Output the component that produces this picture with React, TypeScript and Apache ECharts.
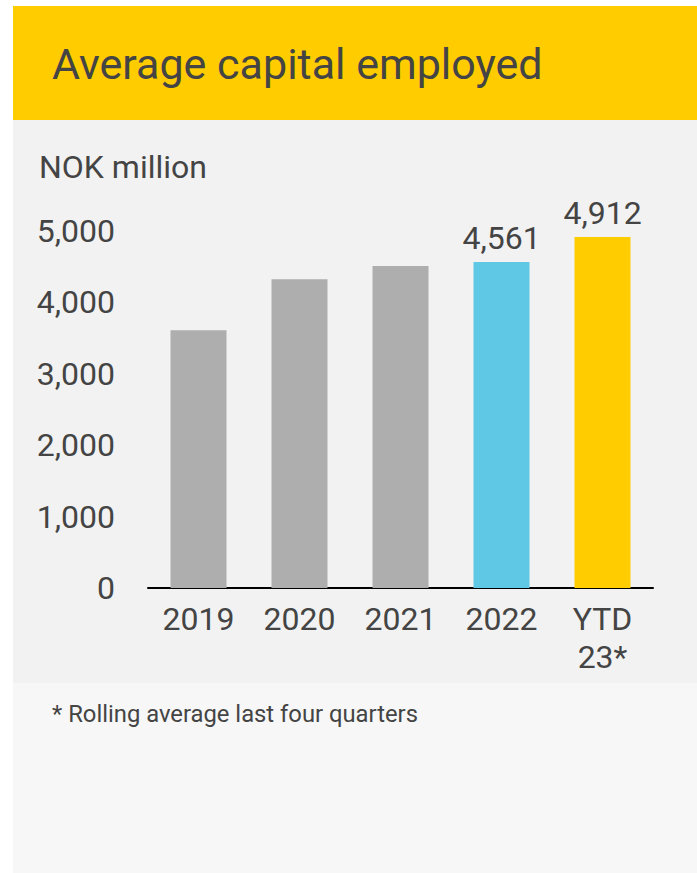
import React, { useEffect, useRef } from "react";
import * as echarts from "echarts";

const title = "Average capital employed";
const unitLabel = "NOK million";
const footnote = "* Rolling average last four quarters";
const categories = ["2019", "2020", "2021", "2022", "YTD\n23*"];
const values = [3606, 4320, 4505, 4561, 4912];
const barColors = ["#aeaeae", "#aeaeae", "#aeaeae", "#5ec8e5", "#ffcc00"];
const showValueLabel = [false, false, false, true, true];
const yMin = 0;
const yMax = 5000;
const yInterval = 1000;

const TEXT = "#444444";
const FONT = "Roboto";

const fmt = (v: number) => Number(v).toLocaleString("en-US");

export default function App() {
  const ref = useRef<HTMLDivElement>(null);
  useEffect(() => {
    if (!ref.current) return;
    const chart = echarts.init(ref.current, null, { renderer: "svg" });
    chart.setOption({
      animation: false,
      backgroundColor: "#ffffff",
      graphic: [
        { type: "rect", z: -10, shape: { x: 13, y: 6, width: 684, height: 114 }, style: { fill: "#ffcc00" }, silent: true },
        { type: "rect", z: -10, shape: { x: 13, y: 120, width: 684, height: 563 }, style: { fill: "#f2f2f2" }, silent: true },
        { type: "rect", z: -10, shape: { x: 13, y: 683, width: 684, height: 190 }, style: { fill: "#f7f7f7" }, silent: true },
        {
          type: "text", z: 10, x: 52, y: 64,
          style: { text: title, fill: TEXT, fontSize: 43, fontFamily: FONT, textAlign: "left", textVerticalAlign: "middle" },
        },
        {
          type: "text", z: 10, x: 39, y: 167,
          style: { text: unitLabel, fill: TEXT, fontSize: 32, fontFamily: FONT, textAlign: "left", textVerticalAlign: "middle" },
        },
        {
          type: "text", z: 10, x: 52, y: 714,
          style: { text: footnote, fill: TEXT, fontSize: 23.8, fontFamily: FONT, textAlign: "left", textVerticalAlign: "middle" },
        },
      ],
      grid: { left: 148, right: 44, top: 230.7, bottom: 285, containLabel: false },
      xAxis: {
        type: "category",
        data: categories,
        axisLine: { show: true, lineStyle: { color: "#000000", width: 2 } },
        axisTick: { show: false },
        axisLabel: { color: TEXT, fontSize: 32, fontFamily: FONT, lineHeight: 38, margin: 12, interval: 0 },
      },
      yAxis: {
        type: "value",
        min: yMin,
        max: yMax,
        interval: yInterval,
        axisLine: { show: false },
        axisTick: { show: false },
        splitLine: { show: false },
        axisLabel: { color: TEXT, fontSize: 32, fontFamily: FONT, margin: 33, formatter: (v: number) => fmt(v) },
      },
      series: [
        {
          type: "bar",
          barWidth: 56,
          data: values.map((v, i) => ({
            value: v,
            itemStyle: { color: barColors[i] },
            label: {
              show: showValueLabel[i],
              position: "top",
              distance: 8,
              color: TEXT,
              fontSize: 32,
              fontFamily: FONT,
              formatter: (p: any) => fmt(p.value),
            },
          })),
        },
      ],
    });
    return () => chart.dispose();
  }, []);
  return <div ref={ref} style={{ position: "absolute", left: 0, top: 0, width: 697, height: 873 }} />;
}
